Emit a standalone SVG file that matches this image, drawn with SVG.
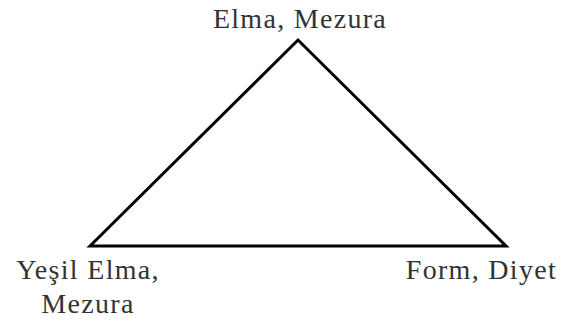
<svg xmlns="http://www.w3.org/2000/svg" width="563" height="325" viewBox="0 0 563 325">
<style>
.lbl{font-family:"Liberation Serif","Times New Roman",serif;font-size:28px;fill:#333;letter-spacing:1.3px}
.edge{fill:none;stroke:#000;stroke-width:3;stroke-linejoin:miter}
</style>
<rect width="563" height="325" fill="#fff"/>
<g id="connectors">
<polygon class="edge" points="90,246 298,40 506,246"/>
</g>
<g id="node-top"><text class="lbl" x="300" y="28" text-anchor="middle">Elma, Mezura</text></g>
<g id="node-left"><text class="lbl" x="88" y="279" text-anchor="middle">Yeşil Elma,</text><text class="lbl" x="88" y="313" text-anchor="middle">Mezura</text></g>
<g id="node-right"><text class="lbl" x="557" y="279" text-anchor="end">Form, Diyet</text></g>
</svg>
